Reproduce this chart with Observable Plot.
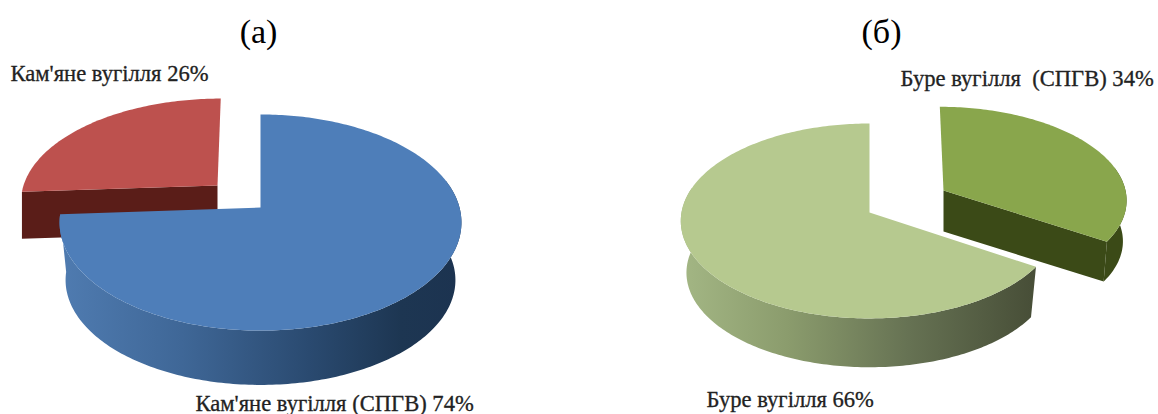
<!DOCTYPE html>
<html>
<head>
<meta charset="utf-8">
<script src="https://cdn.jsdelivr.net/npm/d3@7"></script>
<script src="https://cdn.jsdelivr.net/npm/@observablehq/plot@0.6"></script>
<style>
  html, body { margin: 0; padding: 0; background: #fff; }
  svg { display: block; }
</style>
</head>
<body>
<script>
// Shares of coal output, per cent
const stoneNames = ["Кам'яне вугілля (СПГВ)", "Кам'яне вугілля"];
const stoneValues = [74, 26];
const brownNames = ["Буре вугілля  (СПГВ)", "Буре вугілля"];
const brownValues = [34, 66];
const panelTitles = ["(а)", "(б)"];

// Start at twelve o'clock and run clockwise, keeping the given order
const pie = d3.pie().sort(null).startAngle(0).endAngle(2 * Math.PI);
const stoneArcs = pie(stoneValues);
const brownArcs = pie(brownValues);

// Perspective view of a tilted disc; a = angle clockwise from the top
function disc({cx, cy, rx, ry, k, lean = 0}) {
  return (a, r = 1, drop = 0, shrink = 1) => {
    const u = r * Math.sin(a), v = r * Math.cos(a), s = shrink / (1 + k * v);
    return {x: cx + (rx * u + lean * v) * s, y: cy + drop - ry * v * s};
  };
}
const deg = Math.PI / 180;

// Points of the visible top face of a slice
function topFace(view, a0, a1) {
  const pts = d3.range(a0, a1, deg).concat(a1).map((a) => view(a));
  return [view(0, 0), ...pts];
}
// Outer wall between two angles
function wall(view, a0, a1, drop, shrink) {
  const as = d3.range(a0, a1, deg).concat(a1);
  return [...as.map((a) => view(a)), ...as.slice().reverse().map((a) => view(a, 1, drop, shrink))];
}
// Flat cut face from the apex to the rim at one angle
function cut(view, a, drop, shrink) {
  return [view(0, 0), view(a), view(a, 1, drop, shrink), view(0, 0, drop, shrink)];
}

const blue = disc({cx: 260, cy: 207, rx: 199, ry: 106, k: 0.139});
const red = disc({cx: 217, cy: 185, rx: 194, ry: 99, k: 0.139, lean: 3.7});
const pale = disc({cx: 869, cy: 212, rx: 188, ry: 96.7, k: 0.087});
const olive = disc({cx: 943, cy: 190, rx: 182, ry: 91, k: 0.087, lean: -4});

const poly = (pts, fill) => Plot.line(pts, {x: "x", y: "y", fill, stroke: "none", curve: "linear"});

// Shading of the rounded walls
function gradient(id, x1, x2, stops) {
  const g = d3.create("svg:linearGradient")
    .attr("id", id).attr("gradientUnits", "userSpaceOnUse")
    .attr("x1", x1).attr("x2", x2).attr("y1", 0).attr("y2", 0);
  stops.forEach(([o, c]) => g.append("stop").attr("offset", o).attr("stop-color", c));
  return g.node();
}
const gradients = () => {
  const defs = d3.create("svg:defs");
  defs.append(() => gradient("blueWall", 62, 460, [[0, "#4f7bb0"], [0.3, "#3f6797"], [0.62, "#2a4a70"], [0.85, "#1d3652"], [1, "#1c3350"]]));
  defs.append(() => gradient("paleWall", 682, 1030, [[0, "#a3b684"], [0.3, "#8b9c6d"], [0.65, "#667253"], [1, "#484f38"]]));
  return defs.node();
};

const label = (text, x, y) => Plot.text([text], {
  x: () => x, y: () => y, text: (d) => d, textAnchor: "start", lineAnchor: "bottom",
  fontFamily: "Liberation Serif", fontSize: 22.6, fill: "#222", stroke: "#222", strokeWidth: 0.3
});
const heading = (text, x, y) => Plot.text([text], {
  x: () => x, y: () => y, text: (d) => d, textAnchor: "middle", lineAnchor: "bottom",
  fontFamily: "Liberation Serif", fontSize: 34, fill: "#000"
});

const chart = Plot.plot({
  width: 1158, height: 414,
  margin: 0,
  x: {domain: [0, 1158], range: [0, 1158], axis: null},
  y: {domain: [0, 414], range: [0, 414], axis: null},
  style: {background: "#fff"},
  marks: [
    gradients,
    // Left pie: the detached slice sits behind the large one
    poly(cut(red, stoneArcs[1].startAngle, 47, 1), "#5a1d18"),
    poly(topFace(red, stoneArcs[1].startAngle, stoneArcs[1].endAngle), "#bd514e"),
    poly(wall(blue, 75 * deg, stoneArcs[0].endAngle, 58, 0.97), "url(#blueWall)"),
    poly(topFace(blue, stoneArcs[0].startAngle, stoneArcs[0].endAngle), "#4e7eb9"),
    // Right pie
    poly(wall(pale, brownArcs[1].startAngle, 285 * deg, 52, 0.97), "url(#paleWall)"),
    poly(topFace(pale, brownArcs[1].startAngle, brownArcs[1].endAngle), "#b6c98f"),
    poly(wall(olive, 75 * deg, brownArcs[0].endAngle, 41, 0.98), "#3b4a17"),
    poly(cut(olive, brownArcs[0].endAngle, 41, 0.98), "#3b4a17"),
    poly(topFace(olive, brownArcs[0].startAngle, brownArcs[0].endAngle), "#89a64c"),
    // Captions
    heading(panelTitles[0], 258, 42),
    heading(panelTitles[1], 881, 42),
    label(`${stoneNames[1]} ${stoneValues[1]}%`, 10, 80),
    label(`${stoneNames[0]} ${stoneValues[0]}%`, 195, 410),
    label(`${brownNames[0]} ${brownValues[0]}%`, 900, 85),
    label(`${brownNames[1]} ${brownValues[1]}%`, 706, 406)
  ]
});
document.body.append(chart);
</script>
</body>
</html>
